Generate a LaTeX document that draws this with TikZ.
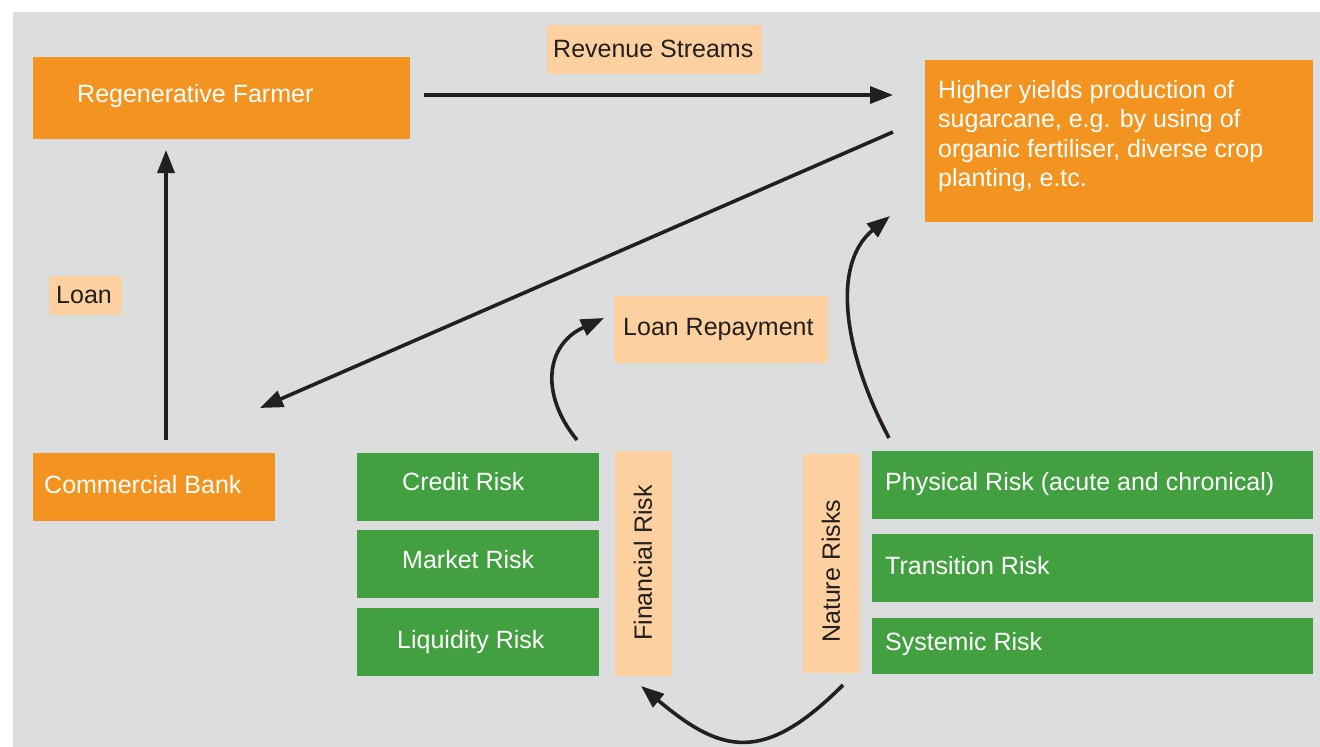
\documentclass[tikz,border=0pt]{standalone}
\usepackage{fontspec}
\setmainfont{Liberation Sans}
\usetikzlibrary{arrows.meta}

\definecolor{panel}{HTML}{DCDDDF}
\definecolor{orangefill}{HTML}{F39420}
\definecolor{greenfill}{HTML}{42A040}
\definecolor{peachfill}{HTML}{FCD09F}
\definecolor{ink}{HTML}{231F20}

\begin{document}
\begin{tikzpicture}[x=1pt, y=-1pt,
  every node/.style={font=\fontsize{25}{29.3}\selectfont},
  box/.style={anchor=north west, inner sep=0pt, outer sep=0pt},
  orangebox/.style={box, fill=orangefill},
  greenbox/.style={box, fill=greenfill},
  peachbox/.style={box, fill=peachfill},
  lightlbl/.style={anchor=base west, inner sep=0pt, text=white},
  darklbl/.style={anchor=base west, inner sep=0pt, text=ink},
  sidelbl/.style={rotate=90, anchor=west, inner sep=0pt, text=ink},
  flow/.style={draw=ink, line width=3.6pt,
    -{Triangle[length=23pt, width=17pt]}},
]
% canvas and grey panel
\useasboundingbox (0,0) rectangle (1320,747);
\fill[white] (0,0) rectangle (1320,747);
\fill[panel] (13,12) rectangle (1320,747);

% main actors
\node[orangebox, minimum width=377pt, minimum height=82pt] (farmer) at (33,57) {};
\node[lightlbl] (farmer-t) at (77,102) {Regenerative Farmer};

\node[orangebox, minimum width=388pt, minimum height=162pt] (yields) at (925,60) {};
\node[lightlbl] (yields-t1) at (938,98)  {Higher yields production of};
\node[lightlbl] (yields-t2) at (938,127) {sugarcane, e.g. by using of};
\node[lightlbl] (yields-t3) at (938,157) {organic fertiliser, diverse crop};
\node[lightlbl] (yields-t4) at (938,186) {planting, e.tc.};

\node[orangebox, minimum width=242pt, minimum height=68pt] (bank) at (33,453) {};
\node[lightlbl] (bank-t) at (44,493) {Commercial Bank};

% flow labels
\node[peachbox, minimum width=215pt, minimum height=49pt] (revenue) at (547,25) {};
\node[darklbl] (revenue-t) at (553,57) {Revenue Streams};

\node[peachbox, minimum width=73pt, minimum height=39pt] (loan) at (49,276) {};
\node[darklbl] (loan-t) at (56,303) {Loan};

\node[peachbox, minimum width=214pt, minimum height=67pt] (repay) at (614,296) {};
\node[darklbl] (repay-t) at (623,335) {Loan Repayment};

% financial risks
\node[greenbox, minimum width=242pt, minimum height=68pt] (credit) at (357,453) {};
\node[lightlbl] (credit-t) at (402,490) {Credit Risk};
\node[greenbox, minimum width=242pt, minimum height=68pt] (market) at (357,530) {};
\node[lightlbl] (market-t) at (402,568) {Market Risk};
\node[greenbox, minimum width=242pt, minimum height=68pt] (liquidity) at (357,608) {};
\node[lightlbl] (liquidity-t) at (397,648) {Liquidity Risk};

\node[peachbox, minimum width=57pt, minimum height=225pt] (finbar) at (615,451) {};
\node[sidelbl] (finbar-t) at (643,641) {Financial Risk};

% nature risks
\node[peachbox, minimum width=57pt, minimum height=219pt] (natbar) at (803,454) {};
\node[sidelbl] (natbar-t) at (831,643) {Nature Risks};

\node[greenbox, minimum width=441pt, minimum height=68pt] (physical) at (872,451) {};
\node[lightlbl] (physical-t) at (885,490) {Physical Risk (acute and chronical)};
\node[greenbox, minimum width=441pt, minimum height=68pt] (transition) at (872,534) {};
\node[lightlbl] (transition-t) at (885,574) {Transition Risk};
\node[greenbox, minimum width=441pt, minimum height=56pt] (systemic) at (872,618) {};
\node[lightlbl] (systemic-t) at (885,650) {Systemic Risk};

% connector end points
\coordinate (farmer-out) at (424,95);
\coordinate (yields-in)  at (893,95);
\coordinate (yields-out) at (893,132);
\coordinate (bank-in)    at (260,408);
\coordinate (bank-out)   at (166,440);
\coordinate (farmer-in)  at (166,150);
\coordinate (credit-out) at (577,440);
\coordinate (repay-in)   at (604,318);
\coordinate (physical-out) at (889,438);
\coordinate (yields-up)  at (890,216);
\coordinate (natbar-out) at (843,685);
\coordinate (finbar-in)  at (641,686);

% connectors
\draw[flow] (farmer-out) -- (yields-in);
\draw[flow] (yields-out) -- (bank-in);
\draw[flow] (bank-out) -- (farmer-in);
\draw[flow] (credit-out) .. controls (540,395) and (545,345) .. (repay-in);
\draw[flow] (physical-out) .. controls (845,355) and (830,265) .. (yields-up);
\draw[flow] (natbar-out) .. controls (763,765) and (721,753) .. (finbar-in);
\end{tikzpicture}
\end{document}
